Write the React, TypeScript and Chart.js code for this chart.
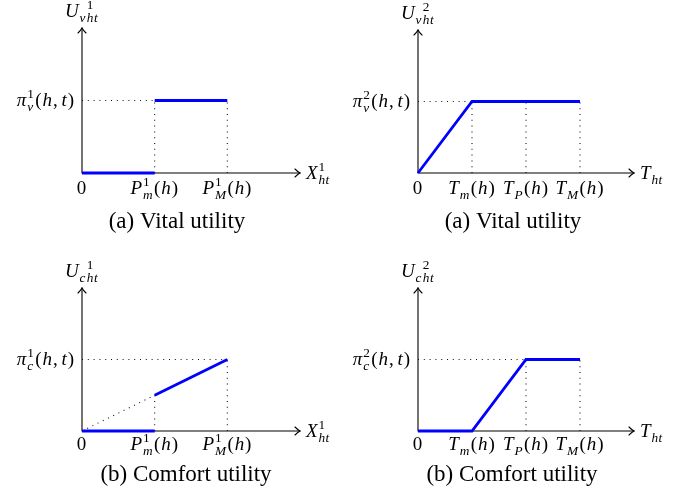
import React, { useEffect, useRef } from "react";
import { Chart, registerables } from "chart.js";

Chart.register(...registerables);

// ---------- data ----------
const Y_MAX = 2;
const X_MAX_GOODS = 3;
const X_MAX_TIME = 4;
const PI_LEVEL = 1;

const goodsTickValues = [0, 1, 2];
const goodsTickLabels = ["0", "P_m^1(h)", "P_M^1(h)"];
const timeTickValues = [0, 1, 2, 3];
const timeTickLabels = ["0", "T_m(h)", "T_P(h)", "T_M(h)"];

// vital utility, good 1 (step)
const vital1Low: number[][] = [[0, 0], [1, 0]];
const vital1High: number[][] = [[1, PI_LEVEL], [2, PI_LEVEL]];
const vital1Guides: number[][][] = [
  [[0, PI_LEVEL], [1, PI_LEVEL]],
  [[1, 0], [1, PI_LEVEL]],
  [[2, 0], [2, PI_LEVEL]],
];

// vital utility, time
const vital2Line: number[][] = [[0, 0], [1, PI_LEVEL], [3, PI_LEVEL]];
const vital2Guides: number[][][] = [
  [[0, PI_LEVEL], [1, PI_LEVEL]],
  [[1, 0], [1, PI_LEVEL]],
  [[2, 0], [2, PI_LEVEL]],
  [[3, 0], [3, PI_LEVEL]],
];

// comfort utility, good 1
const comfort1Low: number[][] = [[0, 0], [1, 0]];
const comfort1Ramp: number[][] = [[1, 0.5], [2, PI_LEVEL]];
const comfort1Guides: number[][][] = [
  [[0, 0], [1, 0.5]],
  [[0, PI_LEVEL], [2, PI_LEVEL]],
  [[1, 0], [1, 0.5]],
  [[2, 0], [2, PI_LEVEL]],
];

// comfort utility, time
const comfort2Line: number[][] = [[0, 0], [1, 0], [2, PI_LEVEL], [3, PI_LEVEL]];
const comfort2Guides: number[][][] = [
  [[0, PI_LEVEL], [2, PI_LEVEL]],
  [[2, 0], [2, PI_LEVEL]],
  [[3, 0], [3, PI_LEVEL]],
];

// ---------- math text helpers ----------
const MATH_FONT = '"Liberation Serif", "Times New Roman", serif';
const CAPTION_FONT = '"Liberation Serif", "Times New Roman", serif';
const isItalic = (c: string) => /[A-Za-z\u03c0]/.test(c);
const fontFor = (c: string, size: number) =>
  `${isItalic(c) ? "italic " : ""}${size}px ${MATH_FONT}`;

type Piece = { c: string; size: number; x: number; dy: number };

function layoutMath(ctx: CanvasRenderingContext2D, str: string, size: number) {
  const ss = size * 0.7;
  const extra = 0.9;
  const pieces: Piece[] = [];
  let x = 0;
  let i = 0;
  const readArg = () => {
    if (str[i] === "{") {
      let depth = 1;
      let j = i + 1;
      while (depth > 0 && j < str.length) {
        if (str[j] === "{") depth++;
        else if (str[j] === "}") depth--;
        j++;
      }
      const a = str.slice(i + 1, j - 1);
      i = j;
      return a;
    }
    const a = str[i];
    i++;
    return a;
  };
  while (i < str.length) {
    const c = str[i];
    if (c === "_" || c === "^") {
      let sub: string | null = null;
      let sup: string | null = null;
      while (i < str.length && (str[i] === "_" || str[i] === "^")) {
        const k = str[i];
        if ((k === "_" && sub !== null) || (k === "^" && sup !== null)) break;
        i++;
        const a = readArg();
        if (k === "_") sub = a;
        else sup = a;
      }
      let w = 0;
      const parts: [string | null, number][] = [
        [sub, size * 0.27],
        [sup, -size * 0.4],
      ];
      for (const [s, dy] of parts) {
        if (!s) continue;
        let xx = x;
        for (const ch of s) {
          pieces.push({ c: ch, size: ss, x: xx, dy });
          ctx.font = fontFor(ch, ss);
          xx += ctx.measureText(ch).width + extra * 0.5;
        }
        w = Math.max(w, xx - x);
      }
      x += w + 1;
    } else {
      pieces.push({ c, size, x, dy: 0 });
      ctx.font = fontFor(c, size);
      x += ctx.measureText(c).width + extra + (c === "," ? 3 : 0);
      i++;
    }
  }
  return { pieces, width: x };
}

function drawMath(
  ctx: CanvasRenderingContext2D,
  str: string,
  x: number,
  y: number,
  size: number,
  align: "left" | "center" | "right"
) {
  const L = layoutMath(ctx, str, size);
  const x0 = align === "center" ? x - L.width / 2 : align === "right" ? x - L.width : x;
  ctx.textAlign = "left";
  ctx.textBaseline = "alphabetic";
  ctx.fillStyle = "#000";
  for (const p of L.pieces) {
    ctx.font = fontFor(p.c, p.size);
    ctx.fillText(p.c, x0 + p.x, y + p.dy);
  }
}

// ---------- panels ----------
type PanelSpec = {
  left: number;
  top: number;
  w: number;
  h: number;
  padding: { left: number; right: number; top: number; bottom: number };
  xMax: number;
  xTickValues: number[];
  xTickLabels: string[];
  yLabel: string;
  yTickLabel: string;
  xLabel: string;
  caption: string;
  captionX: number;
  captionY: number;
  tickDy: number;
  solid: number[][][];
  dotted: number[][][];
};

const panels: PanelSpec[] = [
  {
    left: 0, top: 0, w: 345, h: 250,
    padding: { left: 82, right: 45, top: 28, bottom: 77 },
    xMax: X_MAX_GOODS, xTickValues: goodsTickValues, xTickLabels: goodsTickLabels,
    yLabel: "U_v_{ht}^1", yTickLabel: "\u03c0_v^1(h,t)", xLabel: "X_{ht}^1",
    caption: "(a) Vital utility", captionX: 177, captionY: 228, tickDy: 21,
    solid: [vital1Low, vital1High], dotted: vital1Guides,
  },
  {
    left: 345, top: 0, w: 346, h: 250,
    padding: { left: 73, right: 57, top: 30, bottom: 77 },
    xMax: X_MAX_TIME, xTickValues: timeTickValues, xTickLabels: timeTickLabels,
    yLabel: "U_v_{ht}^2", yTickLabel: "\u03c0_v^2(h,t)", xLabel: "T_{ht}",
    caption: "(a) Vital utility", captionX: 168, captionY: 228, tickDy: 21,
    solid: [vital2Line], dotted: vital2Guides,
  },
  {
    left: 0, top: 250, w: 345, h: 247,
    padding: { left: 82, right: 45, top: 38, bottom: 66 },
    xMax: X_MAX_GOODS, xTickValues: goodsTickValues, xTickLabels: goodsTickLabels,
    yLabel: "U_c_{ht}^1", yTickLabel: "\u03c0_c^1(h,t)", xLabel: "X_{ht}^1",
    caption: "(b) Comfort utility", captionX: 186, captionY: 231, tickDy: 19,
    solid: [comfort1Low, comfort1Ramp], dotted: comfort1Guides,
  },
  {
    left: 345, top: 250, w: 346, h: 247,
    padding: { left: 73, right: 57, top: 38, bottom: 66 },
    xMax: X_MAX_TIME, xTickValues: timeTickValues, xTickLabels: timeTickLabels,
    yLabel: "U_c_{ht}^2", yTickLabel: "\u03c0_c^2(h,t)", xLabel: "T_{ht}",
    caption: "(b) Comfort utility", captionX: 167, captionY: 231, tickDy: 19,
    solid: [comfort2Line], dotted: comfort2Guides,
  },
];

const MATH_SIZE = 19;

function makePlugin(spec: PanelSpec) {
  return {
    id: "axesAndLabels",
    beforeDatasetsDraw(chart: any) {
      const ctx: CanvasRenderingContext2D = chart.ctx;
      const xs = chart.scales.x;
      const ys = chart.scales.y;
      const ox = xs.getPixelForValue(0);
      const oy = ys.getPixelForValue(0);
      const xe = xs.getPixelForValue(spec.xMax);
      const ye = ys.getPixelForValue(Y_MAX);
      ctx.save();
      ctx.strokeStyle = "#000";
      ctx.lineWidth = 1.1;
      ctx.lineCap = "round";
      ctx.beginPath();
      ctx.moveTo(ox, oy);
      ctx.lineTo(xe, oy);
      ctx.moveTo(ox, oy);
      ctx.lineTo(ox, ye);
      ctx.stroke();
      // arrow heads
      ctx.beginPath();
      ctx.moveTo(xe - 5, oy - 4);
      ctx.quadraticCurveTo(xe - 2, oy - 1, xe, oy);
      ctx.quadraticCurveTo(xe - 2, oy + 1, xe - 5, oy + 4);
      ctx.moveTo(ox - 4, ye + 5);
      ctx.quadraticCurveTo(ox - 1, ye + 2, ox, ye);
      ctx.quadraticCurveTo(ox + 1, ye + 2, ox + 4, ye + 5);
      ctx.stroke();
      ctx.restore();
    },
    afterDraw(chart: any) {
      const ctx: CanvasRenderingContext2D = chart.ctx;
      const xs = chart.scales.x;
      const ys = chart.scales.y;
      const ox = xs.getPixelForValue(0);
      const oy = ys.getPixelForValue(0);
      const xe = xs.getPixelForValue(spec.xMax);
      const ye = ys.getPixelForValue(Y_MAX);
      ctx.save();
      spec.xTickValues.forEach((v, k) => {
        drawMath(ctx, spec.xTickLabels[k], xs.getPixelForValue(v), oy + spec.tickDy, MATH_SIZE, "center");
      });
      drawMath(ctx, spec.yTickLabel, ox - 7, ys.getPixelForValue(PI_LEVEL) + 5, MATH_SIZE, "right");
      drawMath(ctx, spec.yLabel, ox, ye - 11, MATH_SIZE, "center");
      drawMath(ctx, spec.xLabel, xe + 6, oy + 6, MATH_SIZE, "left");
      ctx.font = `23px ${CAPTION_FONT}`;
      ctx.fillStyle = "#000";
      ctx.textAlign = "center";
      ctx.textBaseline = "alphabetic";
      ctx.fillText(spec.caption, spec.captionX, spec.captionY);
      ctx.restore();
    },
  };
}

function Panel({ spec }: { spec: PanelSpec }) {
  const ref = useRef<HTMLCanvasElement | null>(null);
  useEffect(() => {
    if (!ref.current) return;
    const toPts = (arr: number[][]) => arr.map(([x, y]) => ({ x, y }));
    const datasets: any[] = [];
    spec.solid.forEach((seg) =>
      datasets.push({
        data: toPts(seg),
        showLine: true,
        borderColor: "#0000ff",
        borderWidth: 2.8,
        pointRadius: 0,
        clip: false,
        order: 0,
        tension: 0,
      })
    );
    spec.dotted.forEach((seg) =>
      datasets.push({
        data: toPts(seg),
        showLine: true,
        borderColor: "#111",
        borderWidth: 1.1,
        borderDash: [1, 4.8],
        pointRadius: 0,
        clip: false,
        order: 1,
        tension: 0,
      })
    );
    const chart = new Chart(ref.current, {
      type: "scatter",
      data: { datasets },
      options: {
        animation: false,
        responsive: false,
        maintainAspectRatio: false,
        events: [],
        layout: { padding: spec.padding },
        plugins: { legend: { display: false }, tooltip: { enabled: false } },
        scales: {
          x: { type: "linear", min: 0, max: spec.xMax, display: false },
          y: { type: "linear", min: 0, max: Y_MAX, display: false },
        },
      },
      plugins: [makePlugin(spec)],
    } as any);
    return () => chart.destroy();
  }, [spec]);
  return (
    <canvas
      ref={ref}
      width={spec.w}
      height={spec.h}
      style={{ position: "absolute", left: spec.left, top: spec.top, width: spec.w, height: spec.h }}
    />
  );
}

export default function App() {
  return (
    <div style={{ position: "absolute", left: 0, top: 0, width: 691, height: 497, background: "#fff" }}>
      {panels.map((p, i) => (
        <Panel key={i} spec={p} />
      ))}
    </div>
  );
}
